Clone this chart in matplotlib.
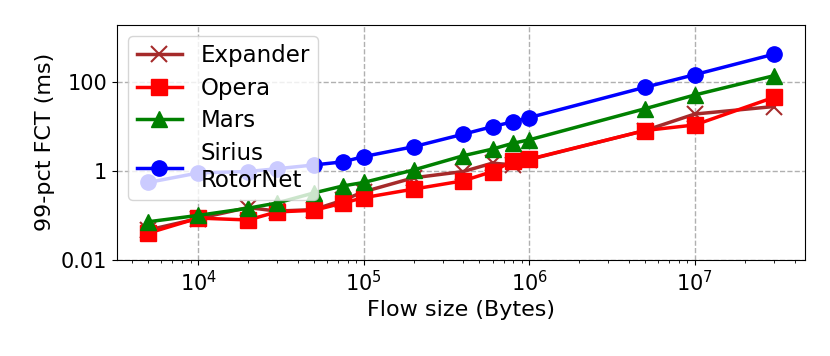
import numpy as np
import matplotlib.pyplot as plt
from matplotlib.ticker import NullLocator

# flow sizes (bytes)
sizes = [5e3, 1e4, 2e4, 3e4, 5e4, 7.5e4, 1e5, 2e5, 4e5, 6e5, 8e5, 1e6, 5e6, 1e7, 3e7]

# 99th percentile FCT (ms)
expander = [0.047, 0.085, 0.15, 0.125, 0.135, 0.22, 0.34, 0.7, 0.97, 1.5, 1.36, 1.8, 8.1, 19, 28]
opera = [0.04, 0.087, 0.079, 0.12, 0.13, 0.19, 0.25, 0.39, 0.6, 0.97, 1.68, 1.83, 8.1, 10.8, 45]
mars = [0.072, 0.10, 0.145, 0.19, 0.32, 0.46, 0.55, 1.05, 2.2, 3.1, 4.2, 5.0, 25, 51, 138]
sirius = [0.55, 0.9, 0.97, 1.12, 1.36, 1.6, 2.1, 3.5, 6.7, 9.9, 12.8, 15.8, 76, 146, 420]

yticks = [0.01, 1, 100]
ytick_labels = ['0.01', '1', '100']

fig = plt.figure(figsize=(8.3, 3.56), dpi=100)
ax = fig.add_axes([0.141, 0.27, 0.829, 0.661])

lw, ms = 2.5, 11
ax.plot(sizes, expander, color='brown', marker='x', lw=lw, ms=ms, mew=1.5, label='Expander')
ax.plot(sizes, opera, color='red', marker='s', lw=lw, ms=ms, label='Opera')
ax.plot(sizes, mars, color='green', marker='^', lw=lw, ms=ms, label='Mars')
ax.plot(sizes, sirius, color='blue', marker='o', lw=lw, ms=ms, label='Sirius\nRotorNet')

ax.set_xscale('log')
ax.set_yscale('log')
ax.set_ylim(0.01, 1950)
ax.set_yticks(yticks)
ax.set_yticklabels(ytick_labels)
ax.yaxis.set_minor_locator(NullLocator())

ax.grid(True, which='major', linestyle='--', color='#b0b0b0', lw=1)
ax.tick_params(labelsize=15)
ax.set_xlabel('Flow size (Bytes)', fontsize=16)
ax.set_ylabel('99-pct FCT (ms)', fontsize=16)
ax.legend(loc='upper left', fontsize=16.5, handlelength=2.0, labelspacing=0.42,
          borderpad=0.35)

fig.savefig('out.png', dpi=100)
